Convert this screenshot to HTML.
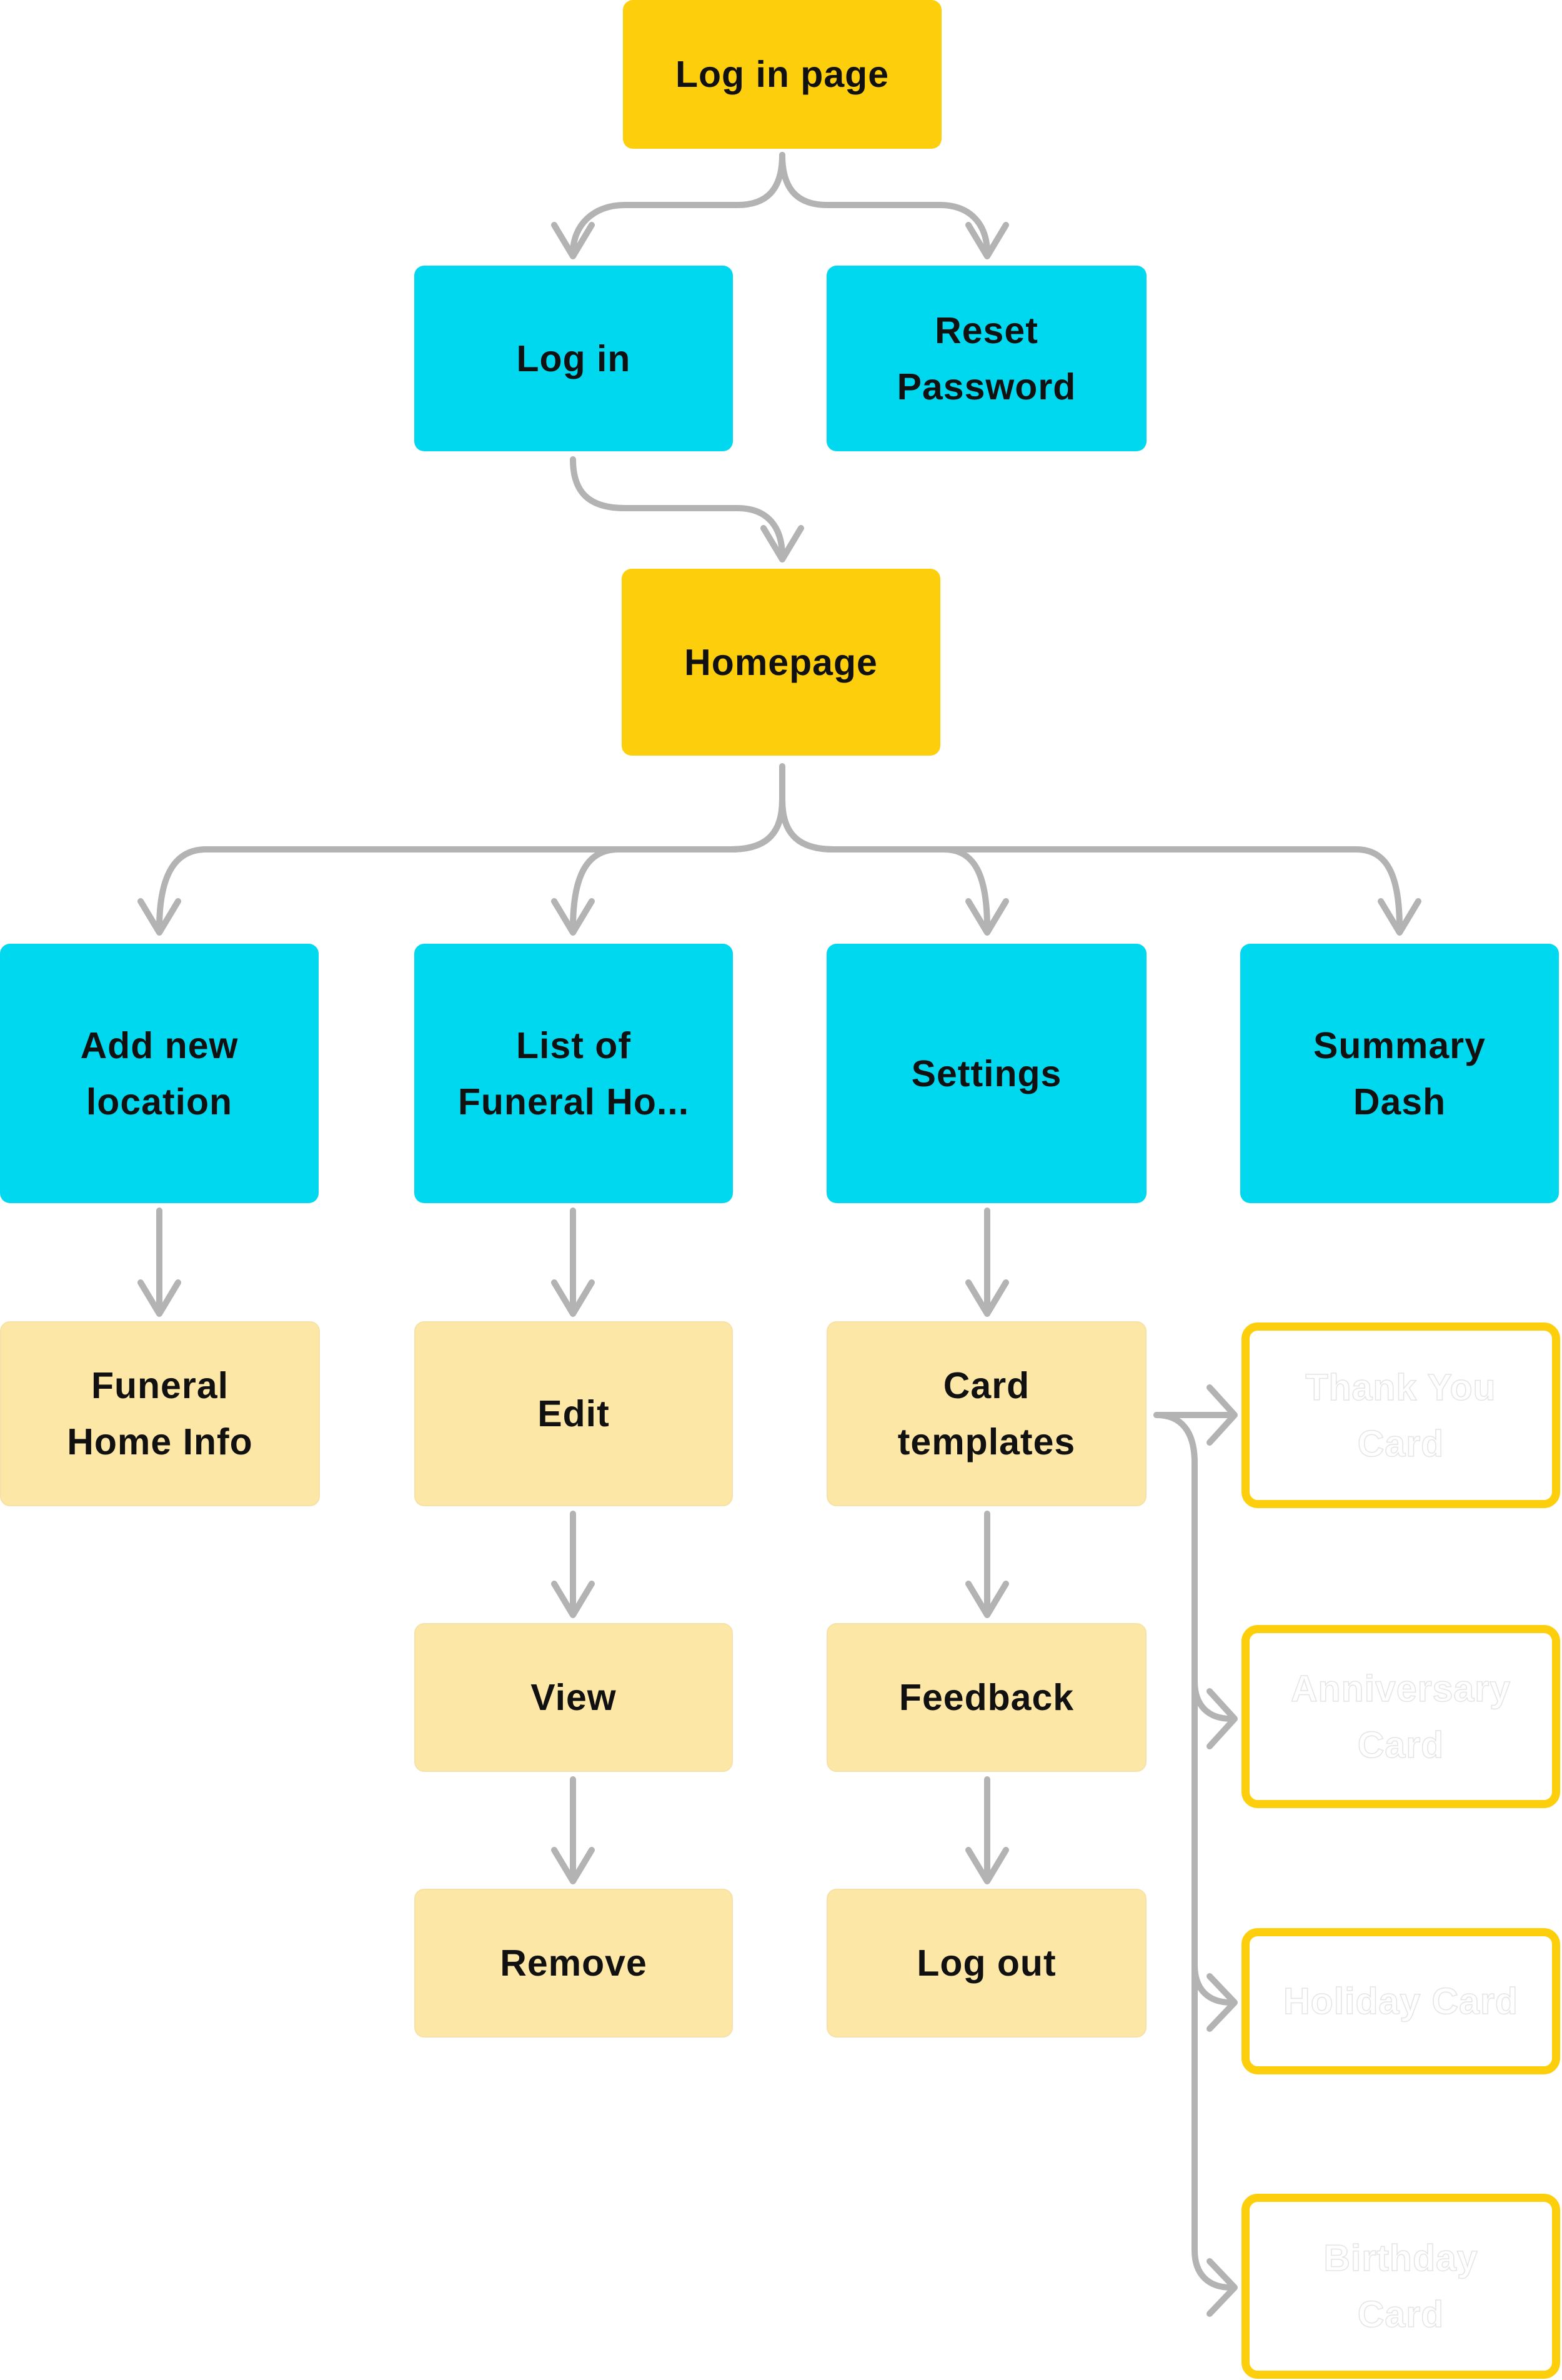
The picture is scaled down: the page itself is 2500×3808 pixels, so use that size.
<!DOCTYPE html>
<html><head><meta charset="utf-8"><style>
html,body{margin:0;padding:0;background:#fff;}
body{width:2500px;height:3808px;position:relative;overflow:hidden;font-family:"Liberation Sans",sans-serif;}
.n{position:absolute;display:flex;align-items:center;justify-content:center;text-align:center;font-weight:bold;font-size:59px;line-height:90px;color:#111;border-radius:16px;box-sizing:border-box;letter-spacing:1px;}
.y{background:#FDCE0C;}
.c{background:#00D8F0;}
.l{background:#FDE7A6;border:2px solid #f6e2a8;}
.o{background:#fff;border:13px solid #FDCE0C;border-radius:26px;color:#fff;-webkit-text-stroke:1.5px #e4e4e4;}
svg{position:absolute;left:0;top:0;}
</style></head><body>
<svg width="2500" height="3808" viewBox="0 0 2500 3808" fill="none" stroke="#B3B3B3" stroke-width="10" stroke-linecap="round" stroke-linejoin="round">
<path d="M1252 248 C1252 300 1230 328 1180 328 L1000 328 C950 328 917 360 917 405"/>
<path d="M1252 248 C1252 300 1274 328 1324 328 L1504 328 C1554 328 1580 360 1580 405"/>
<path d="M887 360 L917 410 L947 360"/><path d="M1550 360 L1580 410 L1610 360"/>
<path d="M917 735 C917 790 945 813 1000 813 L1180 813 C1230 813 1252 845 1252 890"/>
<path d="M1222 845 L1252 895 L1282 845"/>
<path d="M1252 1226 L1252 1280 C1252 1330 1230 1359 1170 1359 L330 1359 C280 1359 255 1400 255 1485"/>
<path d="M1252 1280 C1252 1330 1230 1359 1170 1359 L990 1359 C940 1359 917 1400 917 1485"/>
<path d="M1252 1280 C1252 1330 1274 1359 1334 1359 L1510 1359 C1560 1359 1580 1400 1580 1485"/>
<path d="M1252 1280 C1252 1330 1274 1359 1334 1359 L2170 1359 C2220 1359 2240 1400 2240 1485"/>
<path d="M225 1442 L255 1492 L285 1442"/><path d="M887 1442 L917 1492 L947 1442"/>
<path d="M1550 1442 L1580 1492 L1610 1442"/><path d="M2210 1442 L2240 1492 L2270 1442"/>
<path d="M255 1937 L255 2100 M225 2052 L255 2102 L285 2052"/>
<path d="M917 1937 L917 2100 M887 2052 L917 2102 L947 2052"/>
<path d="M1580 1937 L1580 2100 M1550 2052 L1580 2102 L1610 2052"/>
<path d="M917 2422 L917 2582 M887 2534 L917 2584 L947 2534"/>
<path d="M1580 2422 L1580 2582 M1550 2534 L1580 2584 L1610 2534"/>
<path d="M917 2847 L917 3008 M887 2960 L917 3010 L947 2960"/>
<path d="M1580 2847 L1580 3008 M1550 2960 L1580 3010 L1610 2960"/>
<path d="M1851 2264 L1976 2264 M1936 2220 L1976 2264 L1936 2308"/>
<path d="M1851 2264 C1890 2264 1912 2290 1912 2340 L1912 3600 C1912 3640 1935 3660 1970 3660"/>
<path d="M1912 2690 C1912 2730 1935 2750 1970 2750"/>
<path d="M1912 3144 C1912 3184 1935 3204 1970 3204"/>
<path d="M1936 2706 L1976 2750 L1936 2794"/>
<path d="M1936 3162 L1976 3204 L1936 3246"/>
<path d="M1936 3618 L1976 3660 L1936 3702"/>
</svg>
<div class="n y" style="left:997px;top:0;width:510px;height:238px;">Log in page</div>
<div class="n c" style="left:663px;top:425px;width:510px;height:297px;">Log in</div>
<div class="n c" style="left:1323px;top:425px;width:512px;height:297px;">Reset<br>Password</div>
<div class="n y" style="left:995px;top:910px;width:510px;height:299px;">Homepage</div>
<div class="n c" style="left:0;top:1510px;width:510px;height:415px;">Add new<br>location</div>
<div class="n c" style="left:663px;top:1510px;width:510px;height:415px;">List of<br>Funeral Ho...</div>
<div class="n c" style="left:1323px;top:1510px;width:512px;height:415px;">Settings</div>
<div class="n c" style="left:1985px;top:1510px;width:510px;height:415px;">Summary<br>Dash</div>
<div class="n l" style="left:0;top:2114px;width:512px;height:296px;">Funeral<br>Home Info</div>
<div class="n l" style="left:663px;top:2114px;width:510px;height:296px;">Edit</div>
<div class="n l" style="left:1323px;top:2114px;width:512px;height:296px;">Card<br>templates</div>
<div class="n l" style="left:663px;top:2597px;width:510px;height:238px;">View</div>
<div class="n l" style="left:1323px;top:2597px;width:512px;height:238px;">Feedback</div>
<div class="n l" style="left:663px;top:3022px;width:510px;height:238px;">Remove</div>
<div class="n l" style="left:1323px;top:3022px;width:512px;height:238px;">Log out</div>
<div class="n o" style="left:1987px;top:2116px;width:510px;height:297px;">Thank You<br>Card</div>
<div class="n o" style="left:1987px;top:2600px;width:510px;height:293px;">Anniversary<br>Card</div>
<div class="n o" style="left:1987px;top:3085px;width:510px;height:234px;">Holiday Card</div>
<div class="n o" style="left:1987px;top:3510px;width:510px;height:296px;">Birthday<br>Card</div>
</body></html>
